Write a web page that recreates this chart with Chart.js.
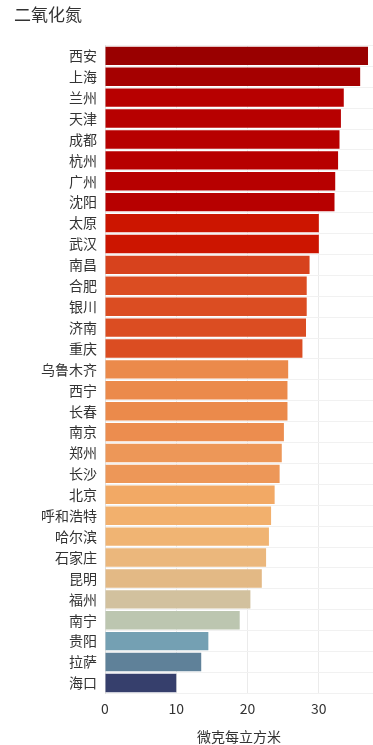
<!DOCTYPE html>
<html>
<head>
<meta charset="utf-8">
<script src="https://cdn.jsdelivr.net/npm/chart.js@4/dist/chart.umd.min.js"></script>
<style>
  html, body { margin: 0; padding: 0; background: #fff; }
  #wrap { width: 373px; height: 745px; position: relative; }
</style>
</head>
<body>
<div id="wrap"><canvas id="no2Chart"></canvas></div>
<script>
Chart.defaults.font.family = '"Noto Sans CJK SC", "Noto Sans", sans-serif';
Chart.defaults.color = '#333';

// cities sorted by NO2 concentration
const cities = [
  '西安', '上海', '兰州', '天津', '成都', '杭州', '广州', '沈阳',
  '太原', '武汉', '南昌', '合肥', '银川', '济南', '重庆', '乌鲁木齐',
  '西宁', '长春', '南京', '郑州', '长沙', '北京', '呼和浩特', '哈尔滨',
  '石家庄', '昆明', '福州', '南宁', '贵阳', '拉萨', '海口'
];

const no2Values = [
  36.9, 35.8, 33.5, 33.1, 32.9, 32.7, 32.3, 32.2,
  30.0, 30.0, 28.7, 28.3, 28.3, 28.2, 27.7, 25.7,
  25.6, 25.6, 25.1, 24.8, 24.5, 23.8, 23.3, 23.0,
  22.6, 22.0, 20.4, 18.9, 14.5, 13.5, 10.0
];

const xTickValues = [0, 10, 20, 30];

const barColors = [
  '#990000', '#a50000', '#b70000', '#b70000', '#b70000', '#b70000', '#b70000', '#b70000',
  '#cc1500', '#cc1500', '#d7421d', '#db4d22', '#db4d22', '#db4d22', '#db4d22', '#eb8a4b',
  '#eb8a4b', '#eb8a4b', '#ec8d4f', '#ed9758', '#ed9758', '#f2a965', '#f2b06d', '#f0b473',
  '#ebb77c', '#e3b985', '#d2c19e', '#bcc6b0', '#74a0b3', '#5f8199', '#363f6c'
];

new Chart(document.getElementById('no2Chart'), {
  type: 'bar',
  data: {
    labels: cities,
    datasets: [{
      label: '二氧化氮',
      data: no2Values,
      backgroundColor: barColors,
      categoryPercentage: 1,
      barPercentage: 0.88
    }]
  },
  options: {
    indexAxis: 'y',
    responsive: true,
    maintainAspectRatio: false,
    animation: false,
    layout: { padding: { left: 14, right: 0, top: 0, bottom: 0 } },
    plugins: {
      legend: { display: false },
      tooltip: { enabled: false },
      title: {
        display: true,
        text: '二氧化氮',
        align: 'start',
        color: '#333',
        font: { size: 17, weight: 'normal' },
        padding: { top: 4, bottom: 21 }
      }
    },
    scales: {
      x: {
        min: 0,
        max: 37.6,
        afterBuildTicks: (scale) => {
          scale.ticks = xTickValues.map(v => ({ value: v }));
        },
        ticks: { font: { size: 14 }, padding: 7, color: '#333' },
        grid: { color: '#ebebeb', drawTicks: false },
        border: { display: false },
        title: {
          display: true,
          text: '微克每立方米',
          font: { size: 14 },
          color: '#333',
          padding: { top: 4, bottom: 0 }
        }
      },
      y: {
        afterFit: (scale) => { scale.width = 91; },
        ticks: { font: { size: 14 }, padding: 8, color: '#333', autoSkip: false },
        grid: { color: '#f1f1f1', drawTicks: false },
        border: { color: '#e0e0e0' }
      }
    }
  }
});
</script>
</body>
</html>
